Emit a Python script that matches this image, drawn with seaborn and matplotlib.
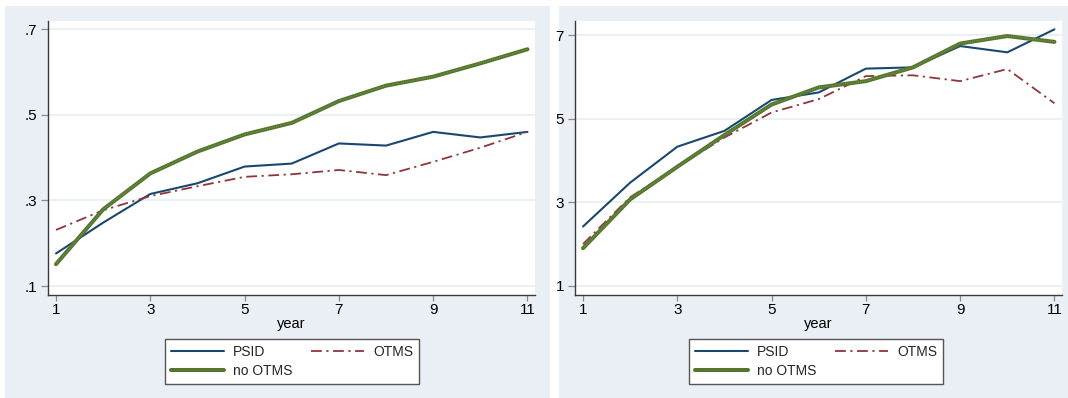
import matplotlib
matplotlib.use("Agg")
import matplotlib.pyplot as plt
from matplotlib.patches import Rectangle
from matplotlib.lines import Line2D
import seaborn as sns
import numpy as np

# ---- data -------------------------------------------------------------
years = [1, 2, 3, 4, 5, 6, 7, 8, 9, 10, 11]

# left panel: shares
left_psid = [0.176, 0.248, 0.315, 0.340, 0.379, 0.386, 0.433, 0.428, 0.460, 0.447, 0.460]
left_otms = [0.231, 0.277, 0.310, 0.333, 0.355, 0.361, 0.371, 0.359, 0.390, 0.423, 0.460]
left_no_otms = [0.151, 0.279, 0.363, 0.414, 0.454, 0.481, 0.532, 0.568, 0.589, 0.620, 0.653]
left_ticks = [0.1, 0.3, 0.5, 0.7]
left_ticklabels = [".1", ".3", ".5", ".7"]

# right panel: levels
right_psid = [2.42, 3.47, 4.33, 4.71, 5.45, 5.63, 6.20, 6.23, 6.74, 6.59, 7.14]
right_otms = [2.00, 3.12, 3.85, 4.55, 5.15, 5.47, 6.02, 6.04, 5.90, 6.19, 5.37]
right_no_otms = [1.90, 3.07, 3.85, 4.61, 5.34, 5.75, 5.90, 6.23, 6.80, 6.98, 6.84]
right_ticks = [1, 3, 5, 7]
right_ticklabels = ["1", "3", "5", "7"]

x_ticks = [1, 3, 5, 7, 9, 11]
series_names = ["PSID", "OTMS", "no OTMS"]

# ---- style ------------------------------------------------------------
sns.set_theme(style="white")
plt.rcParams["font.family"] = ["Liberation Sans", "DejaVu Sans"]

NAVY = "#1A476F"
MAROON = "#90353B"
GREEN = "#55752F"
GREEN_LIGHT = "#7A9A4E"
BG = "#EAEFF5"
GRID = "#E8EEF3"
AXIS = "#3A3A3A"
TICK = "#8A8A8A"
DASHDOT = (0, (6, 2.5, 1.2, 2.5))

W, H = 1068, 398
fig = plt.figure(figsize=(W / 100, H / 100), dpi=100)
fig.patch.set_facecolor("white")

# graph-region backgrounds for the two panels
for x0, x1 in [(5, 550), (559, 1068)]:
    fig.patches.append(Rectangle((x0 / W, 0), (x1 - x0) / W, (H - 6) / H,
                                 transform=fig.transFigure, facecolor=BG,
                                 edgecolor="none", zorder=-10))


def fx(px):
    return px / W


def fy(py):
    return 1 - py / H


def draw_panel(ax_left_px, ax_right_px, psid, otms, no_otms, yticks, yticklabels,
               ylim, legend_left_px):
    ax = fig.add_axes([fx(ax_left_px), fy(295), fx(ax_right_px - ax_left_px),
                       (295 - 21) / H])
    ax.set_facecolor("white")
    for yv in yticks:
        ax.axhline(yv, color=GRID, lw=1.2, zorder=0.5)

    sns.lineplot(x=years, y=psid, ax=ax, color=NAVY, lw=1.5, zorder=3)
    sns.lineplot(x=years, y=otms, ax=ax, color=MAROON, lw=1.3,
                 linestyle=DASHDOT, zorder=3)
    sns.lineplot(x=years, y=no_otms, ax=ax, color=GREEN, lw=2.9, zorder=4)
    sns.lineplot(x=years, y=no_otms, ax=ax, color=GREEN_LIGHT, lw=0.9,
                 linestyle=(0, (0.6, 0.9)), zorder=5)

    ax.set_xlim(0.83, 11.16)
    ax.set_ylim(*ylim)
    ax.set_xticks(x_ticks)
    ax.set_xticklabels([str(v) for v in x_ticks])
    ax.set_yticks(yticks)
    ax.set_yticklabels(yticklabels)
    ax.set_xlabel("year", fontsize=10.5, labelpad=0, color="black")
    ax.set_ylabel("")

    for side in ["top", "right"]:
        ax.spines[side].set_visible(False)
    for side in ["left", "bottom"]:
        ax.spines[side].set_color(AXIS)
        ax.spines[side].set_linewidth(1.0)
    ax.tick_params(axis="both", which="major", direction="out",
                   width=0.9, color=TICK, labelsize=11, labelcolor="black",
                   left=True, bottom=True)
    ax.tick_params(axis="x", length=4, pad=2)
    ax.tick_params(axis="y", length=5, pad=3)

    handles = [
        Line2D([], [], color=NAVY, lw=1.5),
        Line2D([], [], color=GREEN, lw=2.9),
        Line2D([], [], color=MAROON, lw=1.3, linestyle=DASHDOT),
    ]
    labels = [series_names[0], series_names[2], series_names[1]]
    leg = ax.legend(handles, labels, ncol=2, loc="upper left",
                    bbox_to_anchor=(fx(legend_left_px), fy(339)),
                    bbox_transform=fig.transFigure,
                    frameon=True, fancybox=False, shadow=False, fontsize=10,
                    handlelength=3.8, handletextpad=0.65, columnspacing=1.35,
                    labelspacing=0.35, borderpad=0.45, borderaxespad=0)
    frame = leg.get_frame()
    frame.set_edgecolor("#555555")
    frame.set_linewidth(1.0)
    frame.set_facecolor("white")
    frame.set_alpha(1)
    return ax


draw_panel(48, 535, left_psid, left_otms, left_no_otms, left_ticks,
           left_ticklabels, (0.079, 0.719), 165)
draw_panel(575, 1062, right_psid, right_otms, right_no_otms, right_ticks,
           right_ticklabels, (0.78, 7.34), 689)

fig.savefig("out.png", dpi=100, facecolor=fig.get_facecolor())
